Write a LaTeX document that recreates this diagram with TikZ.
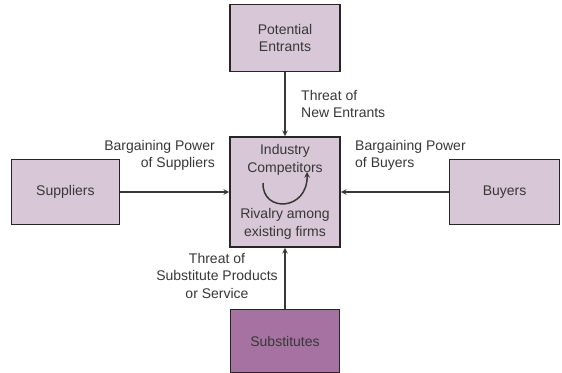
\documentclass[tikz,border=0pt]{standalone}
\usepackage{fontspec}
\setmainfont{Liberation Sans}
\usetikzlibrary{positioning, arrows}
\definecolor{boxLight}{RGB}{216,199,214}
\definecolor{boxDark}{RGB}{166,114,162}
\definecolor{inkGray}{RGB}{55,55,55}
\tikzset{
    ->, % every line gets a head
    >=stealth, % filled pointed heads
    every node/.style={font=\fontsize{14}{17.5}\selectfont, text=inkGray},
}
\begin{document}
\begin{tikzpicture}[
                                x=1pt, y=-1pt,
                                styleBox/.style={draw=black!85, line width=1.6pt, fill=boxLight, align=center},
                                styleText/.style={inner sep=0pt},
                                styleLine/.style={draw=inkGray, line width=1.5pt},
                            ]
                            \useasboundingbox (0,0) rectangle (562,372);
                            \node[styleBox, minimum width=110pt, minimum height=110pt] (ind) at (285,192)
                                {Industry\\Competitors\\[29pt]Rivalry among\\existing firms};
                            \node[styleBox, above=64pt of ind, minimum width=110pt, minimum height=67pt] (ent) {Potential\\Entrants};
                            \node[styleBox, left=109pt of ind, minimum width=108pt, minimum height=65pt] (sup) {Suppliers};
                            \node[styleBox, right=108pt of ind, minimum width=110pt, minimum height=65pt] (buy) {Buyers};
                            \node[styleBox, below=61pt of ind, minimum width=109pt, minimum height=63pt, fill=boxDark] (sub) {Substitutes};

                            \node[styleText, anchor=north west, align=left] (entLbl) at (301,90) {Threat of\\New Entrants};
                            \node[styleText, anchor=north east, align=right] (supLbl) at (215,140) {Bargaining Power\\of Suppliers};
                            \node[styleText, anchor=north west, align=left] (buyLbl) at (355,140) {Bargaining Power\\of Buyers};
                            \node[styleText, anchor=north, align=center] (subLbl) at (217,253) {Threat of\\Substitute Products\\or Service};

                            \coordinate (rivA) at (263,183);
                            \coordinate (rivB) at (307,172);

                            \draw[styleLine]
                            (ent) -- (ind);
                            \draw[styleLine]
                            (sup) -- (ind);
                            \draw[styleLine]
                            (buy) -- (ind);
                            \draw[styleLine]
                            (sub) -- (ind);
                            \draw[styleLine] (rivA) .. controls (262,213) and (308,211) .. (rivB);
                        \end{tikzpicture}
\end{document}
